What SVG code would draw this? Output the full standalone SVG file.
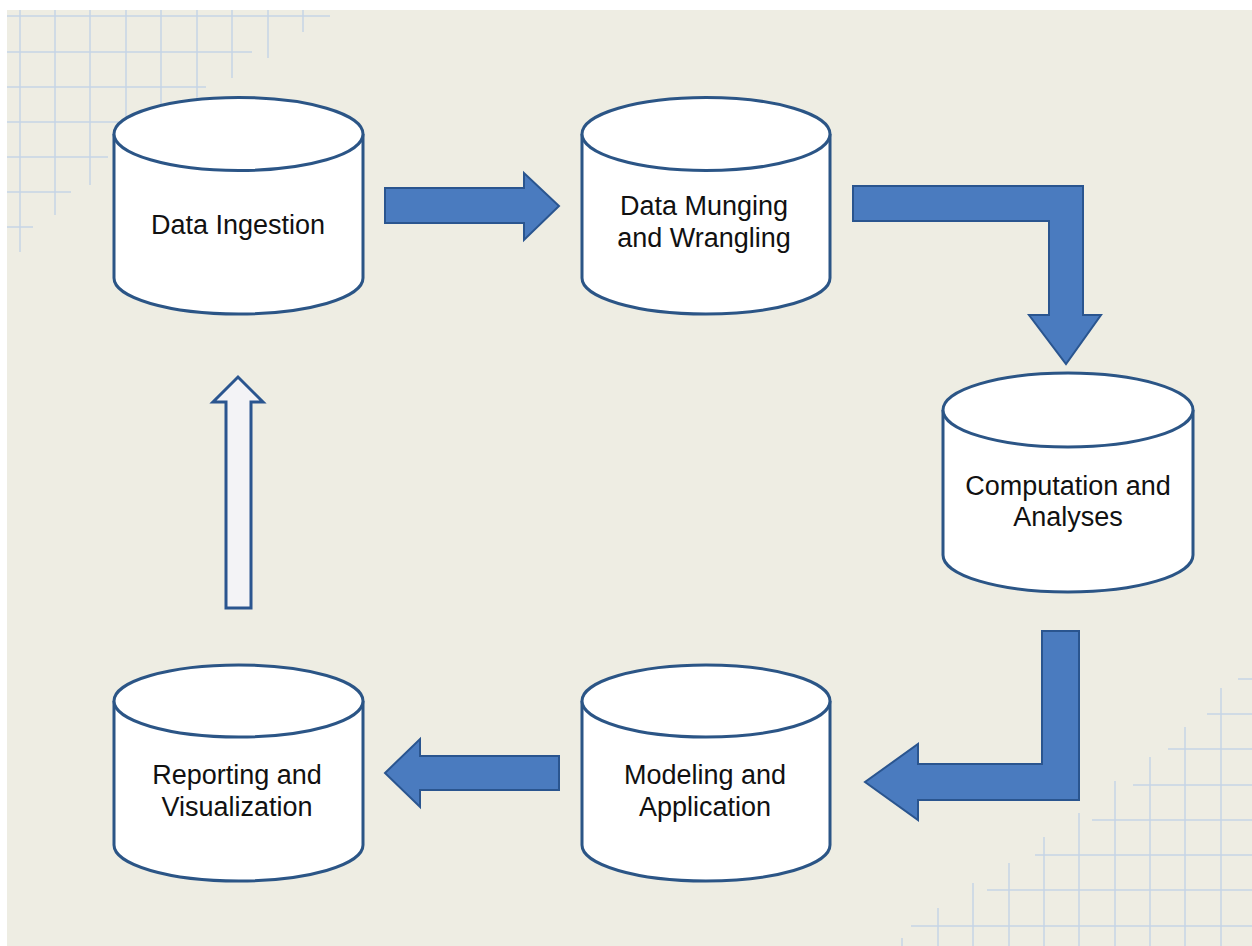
<svg xmlns="http://www.w3.org/2000/svg" width="1252" height="946" viewBox="0 0 1252 946">
<defs>
<style>
.bg{fill:#eeede3}
.grid line{stroke:#c6d4e6;stroke-width:1.5}
.cyl{fill:#ffffff;stroke:#2b5586;stroke-width:3}
.arr{fill:#4a7bbf;stroke:#2a558f;stroke-width:2;stroke-linejoin:miter}
.arr-hollow{fill:#f3f3f6;stroke:#2a558f;stroke-width:3}
.lbl{font-family:"Liberation Sans",Arial,sans-serif;font-size:27px;fill:#111111;text-anchor:middle}
</style>
</defs>
<rect x="0" y="0" width="1252" height="946" fill="#ffffff"/>
<rect class="bg" x="7" y="10" width="1245" height="936"/>
<g class="grid" id="grid-top-left">
<line x1="20" y1="10" x2="20" y2="252"/>
<line x1="55" y1="10" x2="55" y2="215"/>
<line x1="90" y1="10" x2="90" y2="185"/>
<line x1="126" y1="10" x2="126" y2="150"/>
<line x1="161" y1="10" x2="161" y2="130"/>
<line x1="197" y1="10" x2="197" y2="120"/>
<line x1="232" y1="10" x2="232" y2="78"/>
<line x1="268" y1="10" x2="268" y2="58"/>
<line x1="303" y1="10" x2="303" y2="32"/>
<line x1="7" y1="16" x2="330" y2="16"/>
<line x1="7" y1="52" x2="252" y2="52"/>
<line x1="7" y1="87" x2="206" y2="87"/>
<line x1="7" y1="122" x2="150" y2="122"/>
<line x1="7" y1="157" x2="108" y2="157"/>
<line x1="7" y1="192" x2="71" y2="192"/>
<line x1="7" y1="227" x2="33" y2="227"/>
</g>
<g class="grid" id="grid-bottom-right">
<line x1="902" y1="938" x2="902" y2="946"/>
<line x1="938" y1="908" x2="938" y2="946"/>
<line x1="973" y1="883" x2="973" y2="946"/>
<line x1="1009" y1="863" x2="1009" y2="946"/>
<line x1="1044" y1="837" x2="1044" y2="946"/>
<line x1="1079" y1="813" x2="1079" y2="946"/>
<line x1="1115" y1="781" x2="1115" y2="946"/>
<line x1="1150" y1="757" x2="1150" y2="946"/>
<line x1="1185" y1="727" x2="1185" y2="946"/>
<line x1="1221" y1="688" x2="1221" y2="946"/>
<line x1="1238" y1="679" x2="1252" y2="679"/>
<line x1="1207" y1="714" x2="1252" y2="714"/>
<line x1="1168" y1="749" x2="1252" y2="749"/>
<line x1="1133" y1="785" x2="1252" y2="785"/>
<line x1="1092" y1="820" x2="1252" y2="820"/>
<line x1="1035" y1="855" x2="1252" y2="855"/>
<line x1="987" y1="890" x2="1252" y2="890"/>
<line x1="911" y1="926" x2="1252" y2="926"/>
</g>
<g id="connectors">
<polygon class="arr" points="385,188 524,188 524,173 559,206 524,240 524,223 385,223"/>
<polygon class="arr" points="853,186 1083,186 1083,315 1101,315 1066,364 1029,315 1049,315 1049,221 853,221"/>
<polygon class="arr" points="1042,631 1079,631 1079,800 918,800 918,820 865,782 918,744 918,764 1042,764"/>
<polygon class="arr" points="559,756 559,790 420,790 420,807 385,773 420,739 420,756"/>
<polygon class="arr-hollow" points="226,608 251,608 251,402 263,402 238,377 213,402 226,402"/>
</g>
<g id="node-ingestion">
<path class="cyl" d="M114,134 L114,278 A124.5,36 0 0 0 363,278 L363,134"/>
<ellipse class="cyl" cx="238.5" cy="134" rx="124.5" ry="36.5"/>
<text class="lbl" x="238" y="234">Data Ingestion</text>
</g>
<g id="node-munging">
<path class="cyl" d="M582,134 L582,278 A124,36 0 0 0 830,278 L830,134"/>
<ellipse class="cyl" cx="706" cy="134" rx="124" ry="36.5"/>
<text class="lbl" x="704" y="215">Data Munging</text>
<text class="lbl" x="704" y="247">and Wrangling</text>
</g>
<g id="node-computation">
<path class="cyl" d="M943,410 L943,555 A125,37 0 0 0 1193,555 L1193,410"/>
<ellipse class="cyl" cx="1068" cy="410" rx="125" ry="37"/>
<text class="lbl" x="1068" y="495">Computation and</text>
<text class="lbl" x="1068" y="526">Analyses</text>
</g>
<g id="node-modeling">
<path class="cyl" d="M582,701 L582,845 A124,36 0 0 0 830,845 L830,701"/>
<ellipse class="cyl" cx="706" cy="701" rx="124" ry="36"/>
<text class="lbl" x="705" y="784">Modeling and</text>
<text class="lbl" x="705" y="816">Application</text>
</g>
<g id="node-reporting">
<path class="cyl" d="M114,701 L114,845 A124.5,36 0 0 0 363,845 L363,701"/>
<ellipse class="cyl" cx="238.5" cy="701" rx="124.5" ry="36"/>
<text class="lbl" x="237" y="784">Reporting and</text>
<text class="lbl" x="237" y="816">Visualization</text>
</g>
</svg>
